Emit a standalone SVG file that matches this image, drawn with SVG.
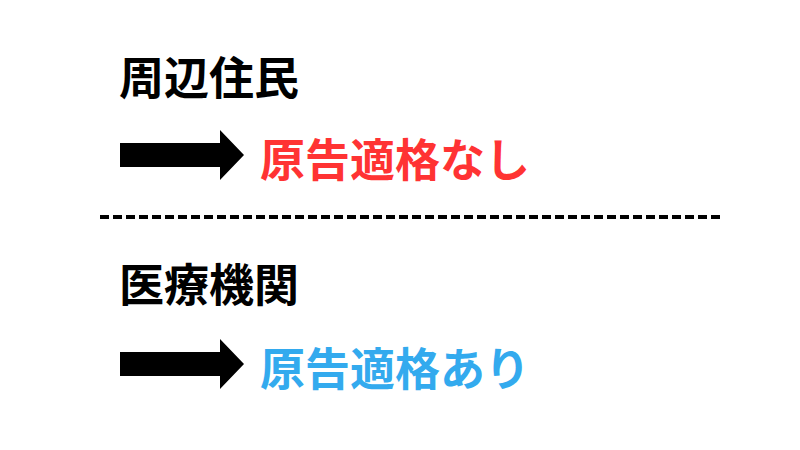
<svg xmlns="http://www.w3.org/2000/svg" width="800" height="450" viewBox="0 0 800 450">
<style>
text{font-family:"Noto Sans CJK JP","Noto Sans CJK SC",sans-serif;font-weight:bold}
.h{font-size:45px;fill:#000}
.r{font-size:45px}
</style>
<defs><path id="arr" d="M120 143 H220 V130 L244 155 L220 180 V167 H120 Z" fill="#000"/></defs>
<rect width="800" height="450" fill="#fff"/>
<g id="residents"><text class="h" x="119" y="95">周辺住民</text></g>
<g id="result1"><use href="#arr"/><text class="r" x="260" y="177" fill="#ff3333">原告適格なし</text></g>
<g id="connectors"><line x1="100" y1="217" x2="720" y2="217" stroke="#000" stroke-width="4" stroke-dasharray="9,4"/></g>
<g id="medical"><text class="h" x="119" y="302">医療機関</text></g>
<g id="result2"><use href="#arr" y="209"/><text class="r" x="260" y="386" fill="#33aaee">原告適格あり</text></g>
</svg>
